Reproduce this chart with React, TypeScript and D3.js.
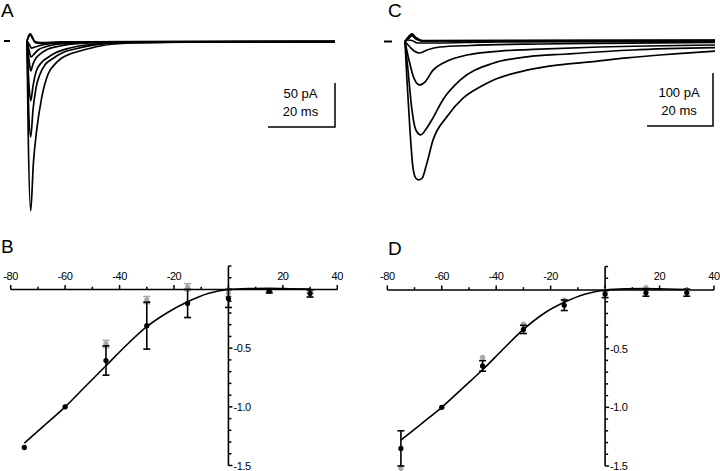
import * as d3 from "d3";

const font = "'Liberation Sans', Arial, sans-serif";

// I-V data (normalised current vs holding potential, mV)
const ivVolts = [-75, -60, -45, -30, -15, 0, 15, 30];
const bBlackMean = [-1.347, -1.0, -0.605, -0.308, -0.119, -0.076, -0.014, -0.034];
const bBlackErr = [0, 0, 0.125, 0.2, 0.12, 0.077, 0.015, 0.03];
const bGrayMean = [-1.34, -1.0, -0.464, -0.09, 0.02, -0.03, -0.01, -0.02];
const bGrayErr = [0, 0, 0.03, 0.03, 0.03, 0.03, 0.01, 0.01];

const dBlackMean = [-1.35, -1.0, -0.647, -0.336, -0.13, -0.035, -0.023, -0.023];
const dBlackErr = [0.15, 0, 0.045, 0.035, 0.045, 0.03, 0.03, 0.03];
const dGrayMean = [-1.52, -1.0, -0.573, -0.29, -0.087, -0.01, 0.02, 0.0];
const dGrayErr = [0, 0, 0, 0, 0, 0, 0, 0];

// fitted curves
const fitVolts = [-75, -67.5, -60, -52.5, -45, -37.5, -30, -22.5, -15, -7.5, 0, 7.5, 15, 22.5, 30];
const bFit = [-1.31, -1.155, -1.0, -0.825, -0.65, -0.475, -0.317, -0.198, -0.105, -0.034, 0, 0.008, 0.01, 0.007, 0.003];
const dFit = [-1.28, -1.14, -1.0, -0.84, -0.68, -0.505, -0.336, -0.2, -0.105, -0.036, 0, 0.01, 0.012, 0.008, 0.004];

const xTickLabels = [-80, -60, -40, -20, 20, 40];
const yTickLabels = [-0.5, -1.0, -1.5];

// current traces: [time ms, current pA]
const aTraces: [number, number][][] = [
  [[0, 0], [0.3, -90], [1.1, -193], [1.9, -139], [2.9, -101], [4.4, -64], [6.3, -37.5], [8.4, -26], [10.4, -19.3], [12.8, -14.8], [15.8, -11.4], [21.8, -5.7], [30.7, -2.3], [51.6, -1.1], [91.9, -0.6]],
  [[0, 0], [0.4, -67], [1.1, -109], [1.8, -78], [2.7, -53], [3.9, -37.5], [5.4, -27], [7.5, -20.5], [10.4, -13.6], [14.3, -9.1], [20.3, -4.5], [30.7, -1.7], [51.6, -0.9], [91.9, -0.6]],
  [[0, 0], [0.5, -44], [1.1, -68], [1.8, -51], [2.7, -35], [4.2, -25], [6.0, -19.3], [8.4, -13.6], [12.8, -8], [18.8, -4], [30.7, -1.5], [91.9, -0.6]],
  [[0, 0], [0.6, -21.6], [1.1, -34], [1.8, -26], [2.7, -19.3], [3.9, -14.8], [5.7, -10.2], [9.9, -5.7], [15.8, -2.8], [27.8, -1.1], [91.9, -0.6]],
  [[0, 0], [0.66, -11.4], [1.2, -18.2], [2.1, -14.8], [3.3, -10.2], [5.4, -6.8], [9.9, -3.4], [18.8, -1.5], [91.9, -0.6]],
  [[0, 0], [0.75, -4.5], [1.3, -8], [2.4, -6.8], [4.5, -4.5], [9.9, -2.3], [18.8, -1.1], [91.9, -0.6]],
  [[0, 0], [0.45, 4.5], [1.0, 6.8], [1.6, 3.4], [2.4, -1.7], [3.9, -2.8], [8.4, -2.3], [18.8, -1.1], [91.9, -0.6]],
  [[0, 0], [0.45, 5.7], [1.0, 8.5], [1.6, 4.5], [2.4, -0.6], [3.9, -1.7], [9.9, -1.1], [91.9, -0.6]],
];

const cTraces: [number, number][][] = [
  [[0, 0], [0.6, -73], [1.5, -167], [2.4, -237], [3.3, -258], [4.2, -261], [5.2, -258], [6.4, -235], [8.5, -186], [12.7, -142], [17.6, -107], [22.7, -86], [26.7, -73], [37, -54], [47, -44], [57, -38], [67.3, -31], [77.3, -25.5], [87.3, -21], [94, -18]],
  [[0, 0], [0.9, -54], [2.1, -129], [3.3, -167], [4.8, -176], [6.4, -165], [8.5, -144], [11.5, -110], [16.7, -73], [26.7, -41], [37, -29], [49, -23.6], [69, -16], [94, -11.7]],
  [[0, 0], [1.2, -35], [2.7, -69], [4.5, -82], [6.1, -76], [8.5, -54], [12.1, -39], [18.8, -25.5], [28.8, -18], [38.8, -15], [59, -10.4], [94, -6.6]],
  [[0, 0], [1.5, -10.4], [3, -18.9], [4.5, -21.7], [6.7, -16], [10.6, -10.4], [19.7, -7.5], [40.9, -4.7], [59, -3.4], [94, -1.5]],
  [[0, 0], [0.9, 2.8], [2.1, 1.9], [3.9, -2.8], [7.6, -2.8], [28.8, -0.9], [94, 0]],
  [[0, 0], [1.2, 8.5], [2.1, 12.3], [3.3, 6.6], [5.2, 0.9], [13.6, 0.9], [94, 1.9]],
  [[0, 0], [1.2, 10.4], [2.1, 14.2], [3.3, 7.5], [5.2, 1.9], [94, 2.8]],
  [[0, 0], [1.2, 6.6], [2.1, 10.4], [3.3, 4.7], [5.2, 0.9], [94, 1.9]],
];

type TraceProps = {
  traces: [number, number][][];
  tEnd: number;
  xRange: [number, number];
  y0: number;
  pxPerPA: number;
  dash: [number, number];
  barCorner: [number, number];
  barPA: number;
  label: string;
  labelX: number;
};

function TracePanel({ traces, tEnd, xRange, y0, pxPerPA, dash, barCorner, barPA, label, labelX }: TraceProps) {
  const x = d3.scaleLinear().domain([0, tEnd]).range(xRange);
  const y = d3.scaleLinear().domain([0, -100]).range([y0, y0 + 100 * pxPerPA]);
  const line = d3
    .line<[number, number]>()
    .x((d) => x(d[0]))
    .y((d) => y(d[1]))
    .curve(d3.curveMonotoneX);
  const barW = x(20) - x(0);
  const barH = y(-barPA) - y(0);
  const [cx, cy] = barCorner;
  const textX = cx - barW / 2 - 1;
  return (
    <g>
      <text x={labelX} y={17} fontSize={19} fontFamily={font}>{label}</text>
      <line x1={dash[0]} x2={dash[1]} y1={y0} y2={y0} stroke="#000" strokeWidth={2} />
      {traces.map((t, i) => (
        <path key={i} d={line(t) ?? ""} fill="none" stroke="#000" strokeWidth={1.7} strokeLinejoin="round" />
      ))}
      <polyline
        points={`${cx - barW},${cy} ${cx},${cy} ${cx},${cy - barH}`}
        fill="none"
        stroke="#000"
        strokeWidth={1.5}
      />
      <text x={textX} y={cy - 29.5} fontSize={13} fontFamily={font} textAnchor="middle">{`${barPA} pA`}</text>
      <text x={textX} y={cy - 11.5} fontSize={13} fontFamily={font} textAnchor="middle">20 ms</text>
    </g>
  );
}

type IVProps = {
  xRange: [number, number];
  y0: number;
  fit: number[];
  blackMean: number[];
  blackErr: number[];
  grayMean: number[];
  grayErr: number[];
  label: string;
  labelX: number;
  labelY: number;
};

function IVPanel({ xRange, y0, fit, blackMean, blackErr, grayMean, grayErr, label, labelX, labelY }: IVProps) {
  const x = d3.scaleLinear().domain([-80, 40]).range(xRange);
  const y = d3.scaleLinear().domain([0, -1.5]).range([y0, y0 + 176]);
  const ax = x(0);
  const ay = y(0);
  const xTicks = d3.range(-80, 41, 10);
  const yTicks = d3.range(2, -16, -1).map((v) => v / 10);
  const line = d3
    .line<number>()
    .x((_, i) => x(fitVolts[i]))
    .y((d) => y(d))
    .curve(d3.curveMonotoneX);

  const errBars = (mean: number[], err: number[], color: string) =>
    ivVolts.map((v, i) =>
      err[i] > 0 ? (
        <g key={`e${color}${i}`} stroke={color} strokeWidth={1.6}>
          <line x1={x(v)} x2={x(v)} y1={y(mean[i] + err[i])} y2={y(mean[i] - err[i])} />
          <line x1={x(v) - 3.5} x2={x(v) + 3.5} y1={y(mean[i] + err[i])} y2={y(mean[i] + err[i])} />
          <line x1={x(v) - 3.5} x2={x(v) + 3.5} y1={y(mean[i] - err[i])} y2={y(mean[i] - err[i])} />
        </g>
      ) : null
    );

  return (
    <g fontFamily={font}>
      <text x={labelX} y={labelY} fontSize={19}>{label}</text>
      {/* x axis */}
      <line x1={x(-80)} x2={x(40)} y1={ay} y2={ay} stroke="#000" strokeWidth={1.6} />
      {xTicks.map((t) => (
        <line key={t} x1={x(t)} x2={x(t)} y1={ay} y2={ay - (t % 20 === 0 ? 4.5 : 2.8)} stroke="#000" strokeWidth={1.5} />
      ))}
      {xTickLabels.map((t) => (
        <text key={t} x={x(t)} y={ay - 10} fontSize={11} textAnchor="middle" letterSpacing={-0.4}>{t}</text>
      ))}
      {/* y axis */}
      <line x1={ax} x2={ax} y1={y(0.2)} y2={y(-1.5)} stroke="#000" strokeWidth={1.6} />
      {yTicks.map((t) => (
        <line key={t} x1={ax} x2={ax + (Math.abs(t * 10) % 5 === 0 ? 4 : 3)} y1={y(t)} y2={y(t)} stroke="#000" strokeWidth={1.5} />
      ))}
      {yTickLabels.map((t) => (
        <text key={t} x={ax + 5} y={Math.min(y(t) + 4, 470)} fontSize={11} letterSpacing={-0.4}>{t.toFixed(1)}</text>
      ))}
      {/* gray series */}
      {errBars(grayMean, grayErr, "#a8a8a8")}
      {ivVolts.map((v, i) => (
        <circle key={`g${i}`} cx={x(v)} cy={y(grayMean[i])} r={2.6} fill="#a8a8a8" />
      ))}
      {/* fit */}
      <path d={line(fit) ?? ""} fill="none" stroke="#000" strokeWidth={1.6} />
      {/* black series */}
      {errBars(blackMean, blackErr, "#000")}
      {ivVolts.map((v, i) => (
        <circle key={`b${i}`} cx={x(v)} cy={y(blackMean[i])} r={2.6} fill="#000" />
      ))}
    </g>
  );
}

export default function App() {
  return (
    <svg width={720} height={471} style={{ position: "absolute", left: 0, top: 0, background: "#fff" }}>
      <TracePanel
        traces={aTraces}
        tEnd={91.9}
        xRange={[27, 335]}
        y0={41}
        pxPerPA={0.88}
        dash={[4, 10]}
        barCorner={[335, 127]}
        barPA={50}
        label="A"
        labelX={1}
      />
      <TracePanel
        traces={cTraces}
        tEnd={94}
        xRange={[405, 715]}
        y0={41.5}
        pxPerPA={0.53}
        dash={[384, 392]}
        barCorner={[713, 126]}
        barPA={100}
        label="C"
        labelX={388}
      />
      <IVPanel
        xRange={[10.7, 337.3]}
        y0={289.5}
        fit={bFit}
        blackMean={bBlackMean}
        blackErr={bBlackErr}
        grayMean={bGrayMean}
        grayErr={bGrayErr}
        label="B"
        labelX={1}
        labelY={253}
      />
      <IVPanel
        xRange={[387.3, 714]}
        y0={290}
        fit={dFit}
        blackMean={dBlackMean}
        blackErr={dBlackErr}
        grayMean={dGrayMean}
        grayErr={dGrayErr}
        label="D"
        labelX={388}
        labelY={255}
      />
    </svg>
  );
}
